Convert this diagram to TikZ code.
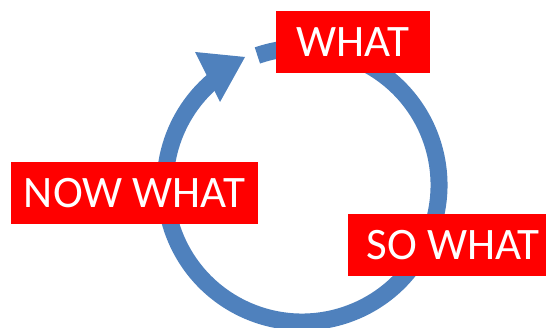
\documentclass[tikz,border=0pt]{standalone}
\usepackage{fontspec}
\setmainfont{Carlito}
\usepackage{tikz}
\usetikzlibrary{calc}
\definecolor{bleuCycle}{RGB}{79,129,189}
\definecolor{rougeVif}{RGB}{255,0,0}

\begin{document}
\begin{tikzpicture}[x=1pt,y=1pt,
  etiq/.style={rectangle,fill=rougeVif,text=white,inner sep=0pt,minimum height=62pt,
               text height=28.4pt,text depth=0pt,font=\fontsize{45}{54}\selectfont},
  anneau/.style={bleuCycle,line width=17pt}]

  \useasboundingbox (0,0) rectangle (546,327);

  % Cycle
  \coordinate (C) at (302,142);
  \coordinate (P1) at (195,275);
  \coordinate (P2) at (245,270);
  \coordinate (P3) at (220,225);
  \draw[anneau] ([shift={(109:137)}]C) arc[start angle=109,end angle=-232,radius=137];
  \fill[bleuCycle] (P1)--(P2)--(P3)--cycle;

  \node[etiq,minimum width=154pt] (Q1) at (353,285) {WHAT};
  \node[etiq,minimum width=210pt] (Q2) at (453,82) {SO WHAT};
  \node[etiq,minimum width=247pt] (Q3) at (134.5,134) {NOW WHAT};
\end{tikzpicture}
\end{document}
